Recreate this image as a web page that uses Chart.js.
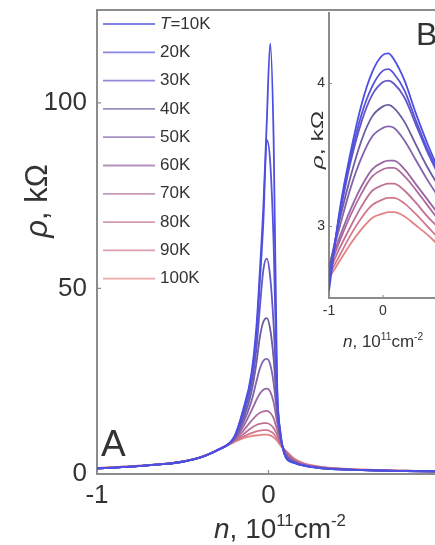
<!DOCTYPE html>
<html>
<head>
<meta charset="utf-8">
<script src="https://cdn.jsdelivr.net/npm/chart.js@4.4.0/dist/chart.umd.min.js"></script>
<style>
  html, body { margin: 0; padding: 0; background: #fff; overflow: hidden; }
  #wrap { position: relative; width: 435px; height: 545px; overflow: hidden; }
  #mainChart { position: absolute; left: 0; top: 0; }
  #insetChart { position: absolute; left: 290px; top: 0; }
</style>
</head>
<body>
<div id="wrap">
  <canvas id="mainChart" width="460" height="545"></canvas>
  <canvas id="insetChart" width="170" height="360"></canvas>
</div>
<script>
// Main panel A : rho(n) for several temperatures
const temps = ['T=10K', '20K', '30K', '40K', '50K', '60K', '70K', '80K', '90K', '100K'];
const nValues = [-1, -0.8, -0.6, -0.5, -0.4, -0.3, -0.2, -0.15, -0.1, -0.07, -0.05, -0.03, -0.01, 0.01, 0.03, 0.05, 0.07, 0.1, 0.15, 0.2, 0.3, 0.5, 0.8, 1.0];
const rho10K  = [1.5, 2.0, 2.7, 3.3, 4.4, 6.4, 10.0, 17, 27, 40, 55, 72, 95, 116, 90, 25, 11, 4.5, 3.0, 2.3, 1.6, 1.1, 0.8, 0.7];
const rho20K  = [1.5, 2.0, 2.7, 3.3, 4.4, 6.4, 10.0, 16.5, 26, 38, 52, 68, 90, 84, 62, 23, 10.8, 4.6, 3.0, 2.3, 1.6, 1.1, 0.8, 0.7];
const rho30K  = [1.5, 2.0, 2.7, 3.3, 4.4, 6.4, 9.8, 15.5, 24, 34, 45, 55, 58, 53, 40, 20, 10.5, 4.8, 3.1, 2.3, 1.6, 1.1, 0.8, 0.7];
const rho40K  = [1.5, 2.0, 2.7, 3.3, 4.4, 6.4, 9.6, 14.5, 22, 30, 37, 41, 42, 39, 31, 18, 10, 5.0, 3.2, 2.4, 1.6, 1.1, 0.8, 0.7];
const rho50K  = [1.5, 2.0, 2.7, 3.3, 4.4, 6.4, 9.4, 13.5, 19.5, 25, 28.5, 30.5, 31, 29.5, 24.5, 16, 9.5, 5.3, 3.3, 2.4, 1.7, 1.1, 0.8, 0.7];
const rho60K  = [1.5, 2.0, 2.7, 3.3, 4.4, 6.4, 9.2, 12.5, 17, 20, 21.7, 22.7, 23, 22.2, 19.3, 14, 9.2, 5.6, 3.4, 2.5, 1.7, 1.1, 0.8, 0.7];
const rho70K  = [1.5, 2.0, 2.7, 3.4, 4.4, 6.4, 9.0, 11.5, 14.3, 15.8, 16.5, 16.9, 17, 16.5, 15, 12, 8.7, 5.8, 3.6, 2.6, 1.8, 1.2, 0.8, 0.7];
const rho80K  = [1.6, 2.0, 2.8, 3.4, 4.5, 6.4, 8.9, 10.6, 12.4, 13.2, 13.5, 13.7, 13.7, 13.3, 12.4, 10.6, 8.4, 6.0, 3.8, 2.7, 1.8, 1.2, 0.9, 0.7];
const rho90K  = [1.6, 2.1, 2.8, 3.4, 4.5, 6.3, 8.7, 10.0, 11.0, 11.5, 11.7, 11.8, 11.8, 11.5, 10.9, 9.6, 8.0, 6.2, 4.0, 2.8, 1.9, 1.2, 0.9, 0.7];
const rho100K = [1.6, 2.1, 2.8, 3.4, 4.5, 6.3, 8.6, 9.6, 10.2, 10.4, 10.5, 10.6, 10.6, 10.4, 9.9, 9.0, 7.7, 6.3, 4.2, 3.0, 2.0, 1.3, 0.9, 0.7];
const mainX = [-1, 0];
const mainY = [0, 50, 100];

// Inset B : zoom near the peak (other sample)
const insetN = [-1, -0.8, -0.6, -0.4, -0.2, 0, 0.1, 0.2, 0.4, 0.6, 0.8, 1.0];
const inset10K  = [2.55, 3.12, 3.52, 3.85, 4.08, 4.20, 4.21, 4.17, 4.02, 3.80, 3.60, 3.42];
const inset20K  = [2.60, 3.10, 3.48, 3.78, 3.98, 4.09, 4.10, 4.07, 3.95, 3.75, 3.56, 3.40];
const inset30K  = [2.65, 3.08, 3.45, 3.73, 3.92, 4.01, 4.02, 4.00, 3.90, 3.72, 3.54, 3.38];
const inset40K  = [2.70, 3.05, 3.35, 3.60, 3.77, 3.84, 3.85, 3.83, 3.73, 3.58, 3.43, 3.30];
const inset50K  = [2.72, 3.00, 3.27, 3.48, 3.63, 3.69, 3.70, 3.69, 3.60, 3.47, 3.34, 3.22];
const inset60K  = [2.72, 2.93, 3.12, 3.28, 3.40, 3.45, 3.46, 3.46, 3.40, 3.30, 3.20, 3.10];
const inset70K  = [2.70, 2.90, 3.08, 3.23, 3.35, 3.40, 3.41, 3.41, 3.35, 3.26, 3.16, 3.06];
const inset80K  = [2.68, 2.85, 3.00, 3.14, 3.25, 3.29, 3.30, 3.30, 3.25, 3.17, 3.08, 3.00];
const inset90K  = [2.66, 2.80, 2.94, 3.06, 3.15, 3.19, 3.20, 3.20, 3.16, 3.09, 3.01, 2.93];
const inset100K = [2.64, 2.76, 2.88, 2.98, 3.06, 3.09, 3.10, 3.10, 3.07, 3.01, 2.95, 2.88];
const insetX = [-1, 0];
const insetY = [3, 4];

const colors = ['#4b4fe3', '#5753d8', '#6357c8', '#6c5c9f', '#8262ad', '#9966a4', '#ad6c9c', '#c07294', '#d2788c', '#e38384'];
const mainSeries = [rho10K, rho20K, rho30K, rho40K, rho50K, rho60K, rho70K, rho80K, rho90K, rho100K];
const insetSeries = [inset10K, inset20K, inset30K, inset40K, inset50K, inset60K, inset70K, inset80K, inset90K, inset100K];

const FONT = 'Liberation Sans, Arial, sans-serif';
const TXT = '#333';
const AXIS = '#8c8c8c';

function makeSets(xs, series) {
    return series.map((ys, i) => ({
        label: temps[i],
        data: xs.map((x, j) => ({ x: x, y: ys[j] })),
        borderColor: colors[i],
        borderWidth: 1.8,
        pointRadius: 0,
        fill: false,
        cubicInterpolationMode: 'monotone'
    }));
}

// draws text pieces (italic / superscript) one after another
function richText(ctx, parts, x, y, size) {
    let cx = x;
    for (let p of parts) {
        let s = p.sup ? size * 0.6 : size;
        ctx.font = (p.it ? 'italic ' : '') + s + 'px ' + FONT;
        ctx.fillText(p.t, cx, p.sup ? y - size * 0.42 : y);
        cx += ctx.measureText(p.t).width;
    }
    return cx - x;
}
function richWidth(ctx, parts, size) {
    let w = 0;
    for (let p of parts) {
        let s = p.sup ? size * 0.6 : size;
        ctx.font = (p.it ? 'italic ' : '') + s + 'px ' + FONT;
        w += ctx.measureText(p.t).width;
    }
    return w;
}
const nTitle = [{ t: 'n', it: true }, { t: ', 10' }, { t: '11', sup: true }, { t: 'cm' }, { t: '-2', sup: true }];
const rhoTitle = [{ t: 'ρ', it: true }, { t: ', kΩ' }];

function frameAndTicks(chart, xt, yt, tick) {
    const ctx = chart.ctx, a = chart.chartArea;
    ctx.save();
    ctx.strokeStyle = AXIS;
    ctx.lineWidth = 2;
    ctx.strokeRect(a.left, a.top, a.right - a.left, a.bottom - a.top);
    ctx.lineWidth = 1.2;
    ctx.beginPath();
    for (let v of xt) {
        let px = chart.scales.x.getPixelForValue(v);
        ctx.moveTo(px, a.bottom); ctx.lineTo(px, a.bottom - tick);
    }
    for (let v of yt) {
        let py = chart.scales.y.getPixelForValue(v);
        ctx.moveTo(a.left, py); ctx.lineTo(a.left + tick, py);
    }
    ctx.stroke();
    ctx.restore();
}

const mainDecor = {
    id: 'mainDecor',
    beforeDatasetsDraw(chart) { frameAndTicks(chart, mainX, mainY, 4); },
    afterDraw(chart) {
        const ctx = chart.ctx;
        ctx.save();
        ctx.fillStyle = TXT;
        ctx.textBaseline = 'alphabetic';
        // x title
        richText(ctx, nTitle, 214, 538, 28);
        // y title rotated
        ctx.save();
        ctx.translate(47, 201);
        ctx.rotate(-Math.PI / 2);
        let w = richWidth(ctx, rhoTitle, 31);
        richText(ctx, rhoTitle, -w / 2, 0, 31);
        ctx.restore();
        // panel letter
        ctx.font = '37px ' + FONT;
        ctx.fillText('A', 101, 456);
        // legend
        chart.data.datasets.forEach((ds, i) => {
            let y = 24 + i * 28.3;
            ctx.strokeStyle = ds.borderColor;
            ctx.globalAlpha = 0.7;
            ctx.lineWidth = 1.8;
            ctx.beginPath(); ctx.moveTo(103, y); ctx.lineTo(155, y); ctx.stroke();
            ctx.globalAlpha = 1;
            ctx.textBaseline = 'middle';
            let lab = ds.label;
            let x = 160;
            if (lab.startsWith('T=')) {
                ctx.font = 'italic 17px ' + FONT;
                ctx.fillText('T', x, y);
                x += ctx.measureText('T').width;
                lab = lab.substring(1);
            }
            ctx.font = '17px ' + FONT;
            ctx.fillText(lab, x, y);
        });
        ctx.restore();
    }
};

const insetDecor = {
    id: 'insetDecor',
    beforeDatasetsDraw(chart) {
        const ctx = chart.ctx, a = chart.chartArea;
        ctx.save();
        ctx.strokeStyle = AXIS;
        ctx.lineWidth = 2;
        ctx.beginPath();
        ctx.moveTo(a.left, a.top); ctx.lineTo(a.left, a.bottom); ctx.lineTo(a.right, a.bottom);
        ctx.stroke();
        ctx.lineWidth = 1;
        ctx.beginPath();
        for (let v of insetX) {
            let px = chart.scales.x.getPixelForValue(v);
            ctx.moveTo(px, a.bottom); ctx.lineTo(px, a.bottom - 3);
        }
        for (let v of insetY) {
            let py = chart.scales.y.getPixelForValue(v);
            ctx.moveTo(a.left, py); ctx.lineTo(a.left + 3, py);
        }
        ctx.stroke();
        ctx.restore();
    },
    afterDraw(chart) {
        const ctx = chart.ctx;
        ctx.save();
        ctx.fillStyle = TXT;
        richText(ctx, nTitle, 53, 347, 17);
        ctx.save();
        ctx.translate(33, 140);
        ctx.rotate(-Math.PI / 2);
        ctx.scale(1.45, 1);
        let w = richWidth(ctx, rhoTitle, 17);
        richText(ctx, rhoTitle, -w / 2, 0, 17);
        ctx.restore();
        ctx.font = '32px ' + FONT;
        ctx.fillText('B', 126, 45);
        ctx.restore();
    }
};

const mainChart = new Chart(document.querySelector('#mainChart').getContext('2d'), {
    type: 'line',
    data: { datasets: makeSets(nValues, mainSeries) },
    options: {
        responsive: false,
        animation: false,
        layout: { padding: { top: 10, right: 20, left: 0, bottom: 0 } },
        plugins: { legend: { display: false }, tooltip: { enabled: false } },
        scales: {
            x: {
                type: 'linear', min: -1, max: 1,
                afterFit(s) { s.height = 71; s.paddingLeft = 0; s.paddingRight = 0; },
                afterBuildTicks(s) { s.ticks = mainX.map(v => ({ value: v })); },
                grid: { display: false, drawTicks: false },
                border: { display: false },
                ticks: { padding: 6, color: TXT, font: { family: FONT, size: 26 }, maxRotation: 0 }
            },
            y: {
                type: 'linear', min: 0, max: 125,
                afterFit(s) { s.width = 97; s.paddingTop = 0; s.paddingBottom = 0; },
                afterBuildTicks(s) { s.ticks = mainY.map(v => ({ value: v })); },
                grid: { display: false, drawTicks: false },
                border: { display: false },
                ticks: { padding: 10, color: TXT, font: { family: FONT, size: 26 } }
            }
        }
    },
    plugins: [mainDecor]
});

const insetChart = new Chart(document.querySelector('#insetChart').getContext('2d'), {
    type: 'line',
    data: { datasets: makeSets(insetN, insetSeries) },
    options: {
        responsive: false,
        animation: false,
        layout: { padding: { top: 12, right: 23, left: 0, bottom: 0 } },
        plugins: { legend: { display: false }, tooltip: { enabled: false } },
        scales: {
            x: {
                type: 'linear', min: -1, max: 1,
                afterFit(s) { s.height = 62; s.paddingLeft = 0; s.paddingRight = 0; },
                afterBuildTicks(s) { s.ticks = insetX.map(v => ({ value: v })); },
                grid: { display: false, drawTicks: false },
                border: { display: false },
                ticks: { padding: 5, color: TXT, font: { family: FONT, size: 14 }, maxRotation: 0 }
            },
            y: {
                type: 'linear', min: 2.5, max: 4.5,
                afterFit(s) { s.width = 39; s.paddingTop = 0; s.paddingBottom = 0; },
                afterBuildTicks(s) { s.ticks = insetY.map(v => ({ value: v })); },
                grid: { display: false, drawTicks: false },
                border: { display: false },
                ticks: { padding: 4, color: TXT, font: { family: FONT, size: 14 } }
            }
        }
    },
    plugins: [insetDecor]
});
</script>
</body>
</html>
